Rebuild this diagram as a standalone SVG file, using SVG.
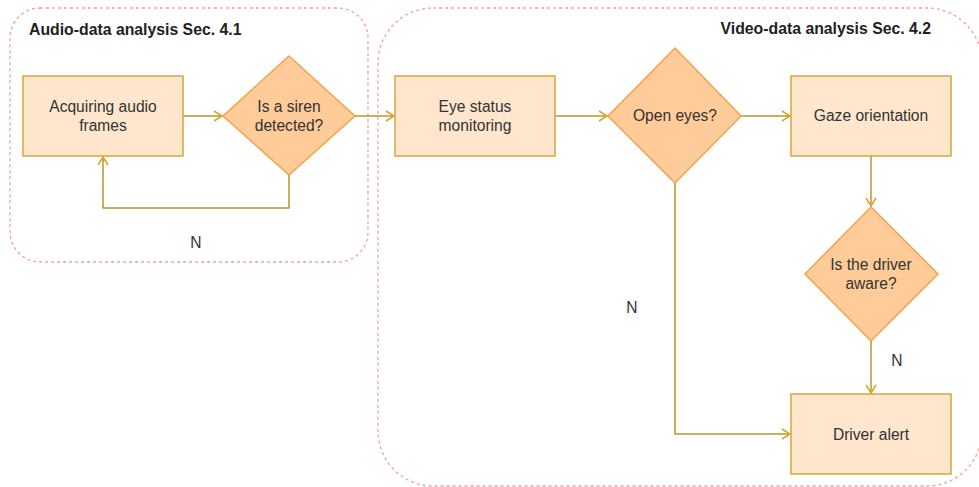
<svg xmlns="http://www.w3.org/2000/svg" width="979" height="487" viewBox="0 0 979 487">
<defs>
<style>
.container{fill:none;stroke:#EA6B66;stroke-opacity:0.65;stroke-width:1.3;stroke-dasharray:3 3}
.box{fill:#FFE6CC;stroke:#D6A63A;stroke-width:1.5}
.dia{fill:#FFCC99;stroke:#F5A04C;stroke-width:1.5}
.edge{fill:none;stroke:#B8962E;stroke-width:1.5}
text{font-family:"Liberation Sans",Arial,sans-serif;fill:#333;font-size:15.6px;text-anchor:middle}
.title{font-weight:bold;fill:#222;font-size:15.8px}
</style>
<marker id="arr" viewBox="0 0 10 12" refX="9" refY="6" markerWidth="10" markerHeight="12" markerUnits="userSpaceOnUse" orient="auto">
<path d="M1,1 L9,6 L1,11" fill="none" stroke="#D9A528" stroke-width="1.5"/>
</marker>
</defs>
<g id="audio-container">
<rect class="container" x="10" y="8" width="358" height="254" rx="30" ry="30"/>
<text class="title" x="29" y="35" style="text-anchor:start">Audio-data analysis Sec. 4.1</text>
</g>
<g id="video-container">
<rect class="container" x="378" y="8" width="604" height="478" rx="55" ry="55"/>
<text class="title" x="931" y="34" style="text-anchor:end">Video-data analysis Sec. 4.2</text>
</g>
<g id="connectors">
<path class="edge" d="M183,116 L222,116" marker-end="url(#arr)"/>
<path class="edge" d="M289,175 L289,208 L103,208 L103,157" marker-end="url(#arr)"/>
<path class="edge" d="M355,116 L394,116" marker-end="url(#arr)"/>
<path class="edge" d="M555,116 L607,116" marker-end="url(#arr)"/>
<path class="edge" d="M741,116 L790,116" marker-end="url(#arr)"/>
<path class="edge" d="M675,183 L675,434 L790,434" marker-end="url(#arr)"/>
<path class="edge" d="M871,156 L871,206" marker-end="url(#arr)"/>
<path class="edge" d="M871,341 L871,393" marker-end="url(#arr)"/>
<text x="196" y="248">N</text>
<text x="632" y="313">N</text>
<text x="897" y="366">N</text>
</g>
<g id="acquiring">
<rect class="box" x="23" y="76" width="160" height="80"/>
<text x="103" y="112">Acquiring audio</text>
<text x="103" y="131">frames</text>
</g>
<g id="siren">
<path class="dia" d="M289,56 L355,116 L289,175 L223,116 Z"/>
<text x="289" y="112">Is a siren</text>
<text x="289" y="131">detected?</text>
</g>
<g id="eye-status">
<rect class="box" x="395" y="76" width="160" height="80"/>
<text x="475" y="112">Eye status</text>
<text x="475" y="131">monitoring</text>
</g>
<g id="open-eyes">
<path class="dia" d="M675,48 L741,116 L675,183 L608,116 Z"/>
<text x="675" y="121">Open eyes?</text>
</g>
<g id="gaze">
<rect class="box" x="791" y="76" width="160" height="80"/>
<text x="871" y="121">Gaze orientation</text>
</g>
<g id="aware">
<path class="dia" d="M871,207 L938,274 L871,341 L805,274 Z"/>
<text x="871" y="270">Is the driver</text>
<text x="871" y="289">aware?</text>
</g>
<g id="driver-alert">
<rect class="box" x="791" y="394" width="160" height="80"/>
<text x="871" y="440">Driver alert</text>
</g>
</svg>
